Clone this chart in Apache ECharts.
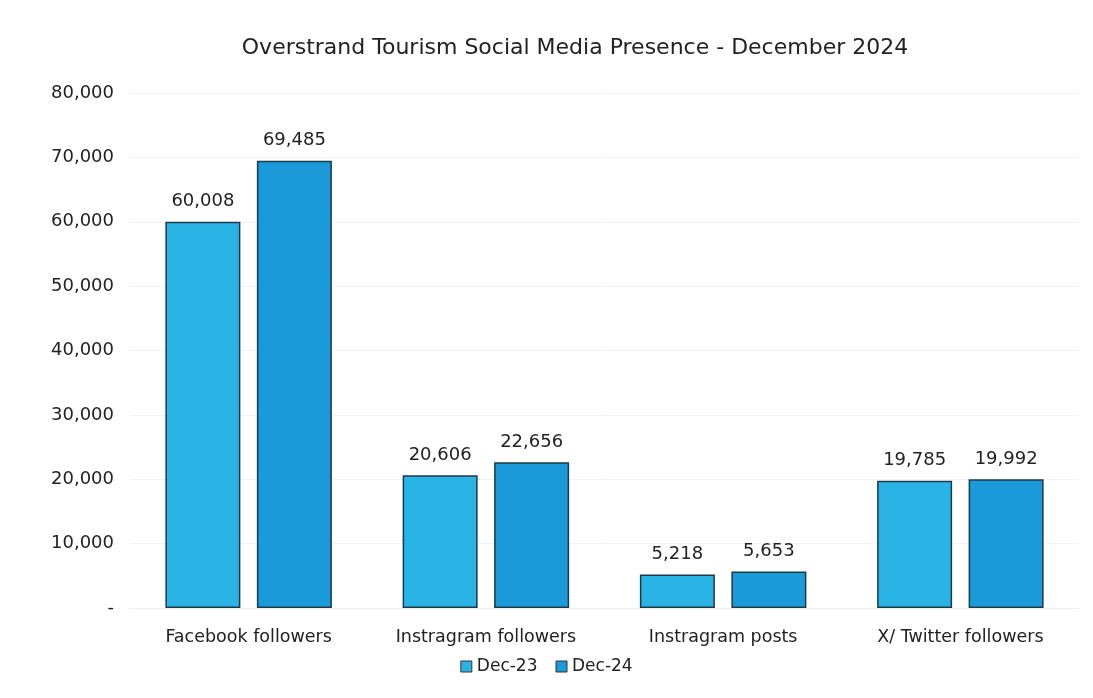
<!DOCTYPE html>
<html><head><meta charset="utf-8">
<script src="https://cdn.jsdelivr.net/npm/echarts@6/dist/echarts.min.js"></script>
<style>html,body{margin:0;padding:0;background:#fff}#c{width:1093px;height:698px}</style>
</head><body><div id="c"></div>
<script>
const categories = ['Facebook followers', 'Instragram followers', 'Instragram posts', 'X/ Twitter followers'];
const seriesNames = ['Dec-23', 'Dec-24'];
const dec23 = [60008, 20606, 5218, 19785];
const dec24 = [69485, 22656, 5653, 19992];
const colors = ['#2ab4e6', '#1a9ad8'];
const font = '"DejaVu Sans", Lato, sans-serif';
const chart = echarts.init(document.getElementById('c'));
const fmt = v => v === 0 ? '-' : v.toLocaleString('en-US');
chart.setOption({
  textStyle: {fontFamily: font},
  title: {text: 'Overstrand Tourism Social Media Presence - December 2024', left: 570, top: 32, textAlign: 'center',
    textStyle: {fontFamily: font, fontSize: 22, fontWeight: 'normal', color: '#222'}},
  legend: {bottom: 18, left: 'center', itemWidth: 11, itemHeight: 11, itemGap: 18,
    textStyle: {fontFamily: font, fontSize: 17, color: '#222'}, icon: 'rect',
    itemStyle: {borderColor: '#333', borderWidth: 1}},
  grid: {left: 130, right: 14, top: 93, bottom: 90},
  xAxis: {type: 'category', data: categories, axisTick: {show: false},
    axisLine: {lineStyle: {color: '#eee'}},
    axisLabel: {interval: 0, hideOverlap: false, fontFamily: font, fontSize: 17.5, color: '#222', margin: 20}},
  yAxis: {type: 'value', min: 0, max: 80000, interval: 10000,
    axisLabel: {formatter: fmt, fontFamily: font, fontSize: 18, color: '#222', margin: 16},
    splitLine: {lineStyle: {color: '#f3f3f3'}}},
  series: [dec23, dec24].map((d, i) => ({
    name: seriesNames[i], type: 'bar', data: d, barWidth: 75, barGap: '22%',
    itemStyle: {color: colors[i], borderColor: '#1d3a48', borderWidth: 1.5},
    label: {show: true, position: 'top', distance: 11, formatter: p => fmt(p.value),
      fontFamily: font, fontSize: 18, color: '#222'}
  }))
});
</script></body></html>
